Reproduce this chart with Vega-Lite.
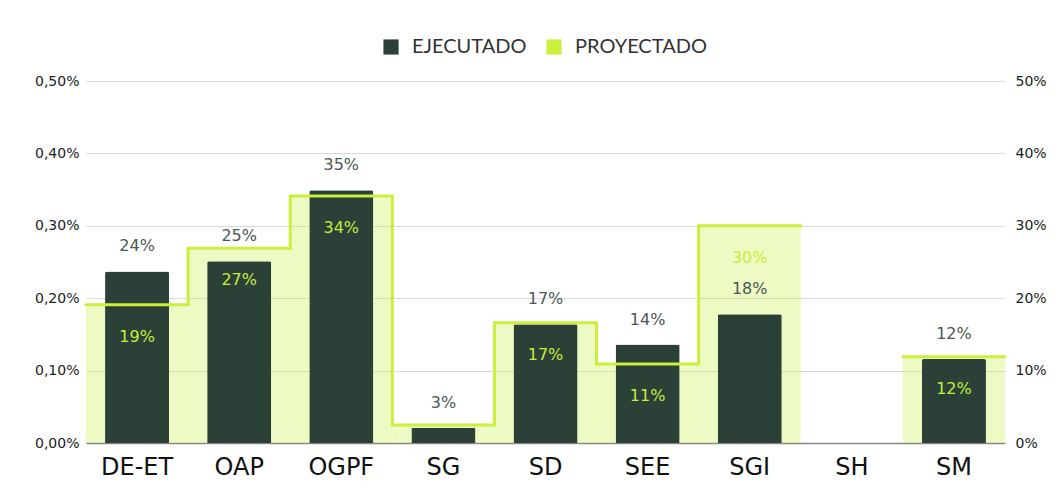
{
  "$schema": "https://vega.github.io/schema/vega-lite/v6.json",
  "width": 919,
  "height": 362,
  "autosize": {"type": "none"},
  "padding": {"left": 86, "top": 81, "right": 59, "bottom": 57},
  "background": "#ffffff",
  "data": {
    "values": [
      {"area": "DE-ET", "ejecutado": 23.7, "proyectado": 19.1, "ejecLabel": "24%", "proyLabel": "19%"},
      {"area": "OAP", "ejecutado": 25.1, "proyectado": 26.9, "ejecLabel": "25%", "proyLabel": "27%"},
      {"area": "OGPF", "ejecutado": 34.9, "proyectado": 34.1, "ejecLabel": "35%", "proyLabel": "34%"},
      {"area": "SG", "ejecutado": 2.1, "proyectado": 2.5, "ejecLabel": "3%", "proyLabel": null},
      {"area": "SD", "ejecutado": 16.4, "proyectado": 16.6, "ejecLabel": "17%", "proyLabel": "17%"},
      {"area": "SEE", "ejecutado": 13.6, "proyectado": 10.9, "ejecLabel": "14%", "proyLabel": "11%"},
      {"area": "SGI", "ejecutado": 17.8, "proyectado": 30.0, "ejecLabel": "18%", "proyLabel": "30%"},
      {"area": "SH", "ejecutado": null, "proyectado": null, "ejecLabel": null, "proyLabel": null},
      {"area": "SM", "ejecutado": 11.6, "proyectado": 11.9, "ejecLabel": "12%", "proyLabel": "12%"}
    ]
  },
  "encoding": {
    "x": {
      "field": "area",
      "type": "nominal",
      "sort": null,
      "title": null,
      "scale": {
        "domain": ["DE-ET", "OAP", "OGPF", "SG", "SD", "SEE", "SGI", "SH", "SM"],
        "paddingInner": 0,
        "paddingOuter": 0
      }
    }
  },
  "layer": [
    {
      "mark": {"type": "bar", "fillOpacity": 0.3},
      "encoding": {
        "y": {
          "field": "proyectado",
          "type": "quantitative",
          "title": null,
          "scale": {"domain": [0, 50], "nice": false},
          "axis": {
            "orient": "left",
            "values": [0, 10, 20, 30, 40, 50],
            "labelExpr": "replace(format(datum.value / 100, '.2f'), '.', ',') + '%'",
            "grid": true,
            "labelPadding": 7
          }
        },
        "color": {
          "datum": "PROYECTADO",
          "type": "nominal",
          "scale": {"domain": ["EJECUTADO", "PROYECTADO"], "range": ["#2b4037", "#c8f03c"]},
          "legend": {
            "orient": "none",
            "legendX": 295,
            "legendY": -44,
            "direction": "horizontal",
            "title": null,
            "symbolType": "square",
            "symbolSize": 230,
            "symbolOpacity": 1,
            "symbolStrokeWidth": 0,
            "labelFont": "Lato",
            "labelFontSize": 20,
            "labelColor": "#333333",
            "labelOffset": 11,
            "columnPadding": 17
          }
        }
      }
    },
    {
      "mark": {"type": "bar", "width": {"band": 0.627}, "cornerRadiusTopLeft": 2, "cornerRadiusTopRight": 2},
      "encoding": {
        "y": {
          "field": "ejecutado",
          "type": "quantitative",
          "title": null,
          "axis": {
            "orient": "right",
            "values": [0, 10, 20, 30, 40, 50],
            "labelExpr": "datum.value + '%'",
            "grid": false,
            "labelPadding": 10
          }
        },
        "color": {"datum": "EJECUTADO", "type": "nominal"}
      }
    },
    {
      "transform": [
        {"window": [{"op": "lag", "field": "proyectado", "as": "prev"}]},
        {"filter": "isValid(datum.prev) && isValid(datum.proyectado)"}
      ],
      "mark": {"type": "rule", "color": "#c8f03c", "strokeWidth": 3, "strokeCap": "round"},
      "encoding": {
        "x": {"field": "area", "type": "nominal", "sort": null, "bandPosition": 0},
        "y": {"field": "proyectado", "type": "quantitative", "axis": null},
        "y2": {"field": "prev"}
      }
    },
    {
      "transform": [{"filter": "isValid(datum.proyectado)"}],
      "mark": {"type": "rule", "color": "#c8f03c", "strokeWidth": 3, "strokeCap": "round"},
      "encoding": {
        "x": {"field": "area", "type": "nominal", "sort": null, "bandPosition": 0},
        "x2": {"field": "area", "bandPosition": 1},
        "y": {"field": "proyectado", "type": "quantitative", "axis": null}
      }
    },
    {
      "transform": [{"filter": "isValid(datum.ejecLabel)"}],
      "mark": {"type": "text", "font": "DejaVu Sans", "fontSize": 16, "color": "#4a5853", "baseline": "middle", "dy": -25},
      "encoding": {
        "y": {"field": "ejecutado", "type": "quantitative", "axis": null},
        "text": {"field": "ejecLabel"}
      }
    },
    {
      "transform": [{"filter": "isValid(datum.proyLabel)"}],
      "mark": {"type": "text", "font": "DejaVu Sans", "fontSize": 16, "color": "#c5ee3a", "baseline": "middle", "dy": 32},
      "encoding": {
        "y": {"field": "proyectado", "type": "quantitative", "axis": null},
        "text": {"field": "proyLabel"}
      }
    }
  ],
  "resolve": {"scale": {"y": "shared"}, "axis": {"y": "independent"}},
  "config": {
    "view": {"stroke": null},
    "axisX": {
      "domain": true,
      "domainColor": "#888888",
      "domainWidth": 1.5,
      "ticks": false,
      "grid": false,
      "labelAngle": 0,
      "labelFont": "DejaVu Sans",
      "labelFontSize": 24,
      "labelColor": "#111111",
      "labelPadding": 12
    },
    "axisY": {
      "domain": false,
      "ticks": false,
      "gridColor": "#d9d9d9",
      "gridWidth": 1,
      "labelFont": "DejaVu Sans",
      "labelFontSize": 14,
      "labelColor": "#222222"
    }
  }
}
